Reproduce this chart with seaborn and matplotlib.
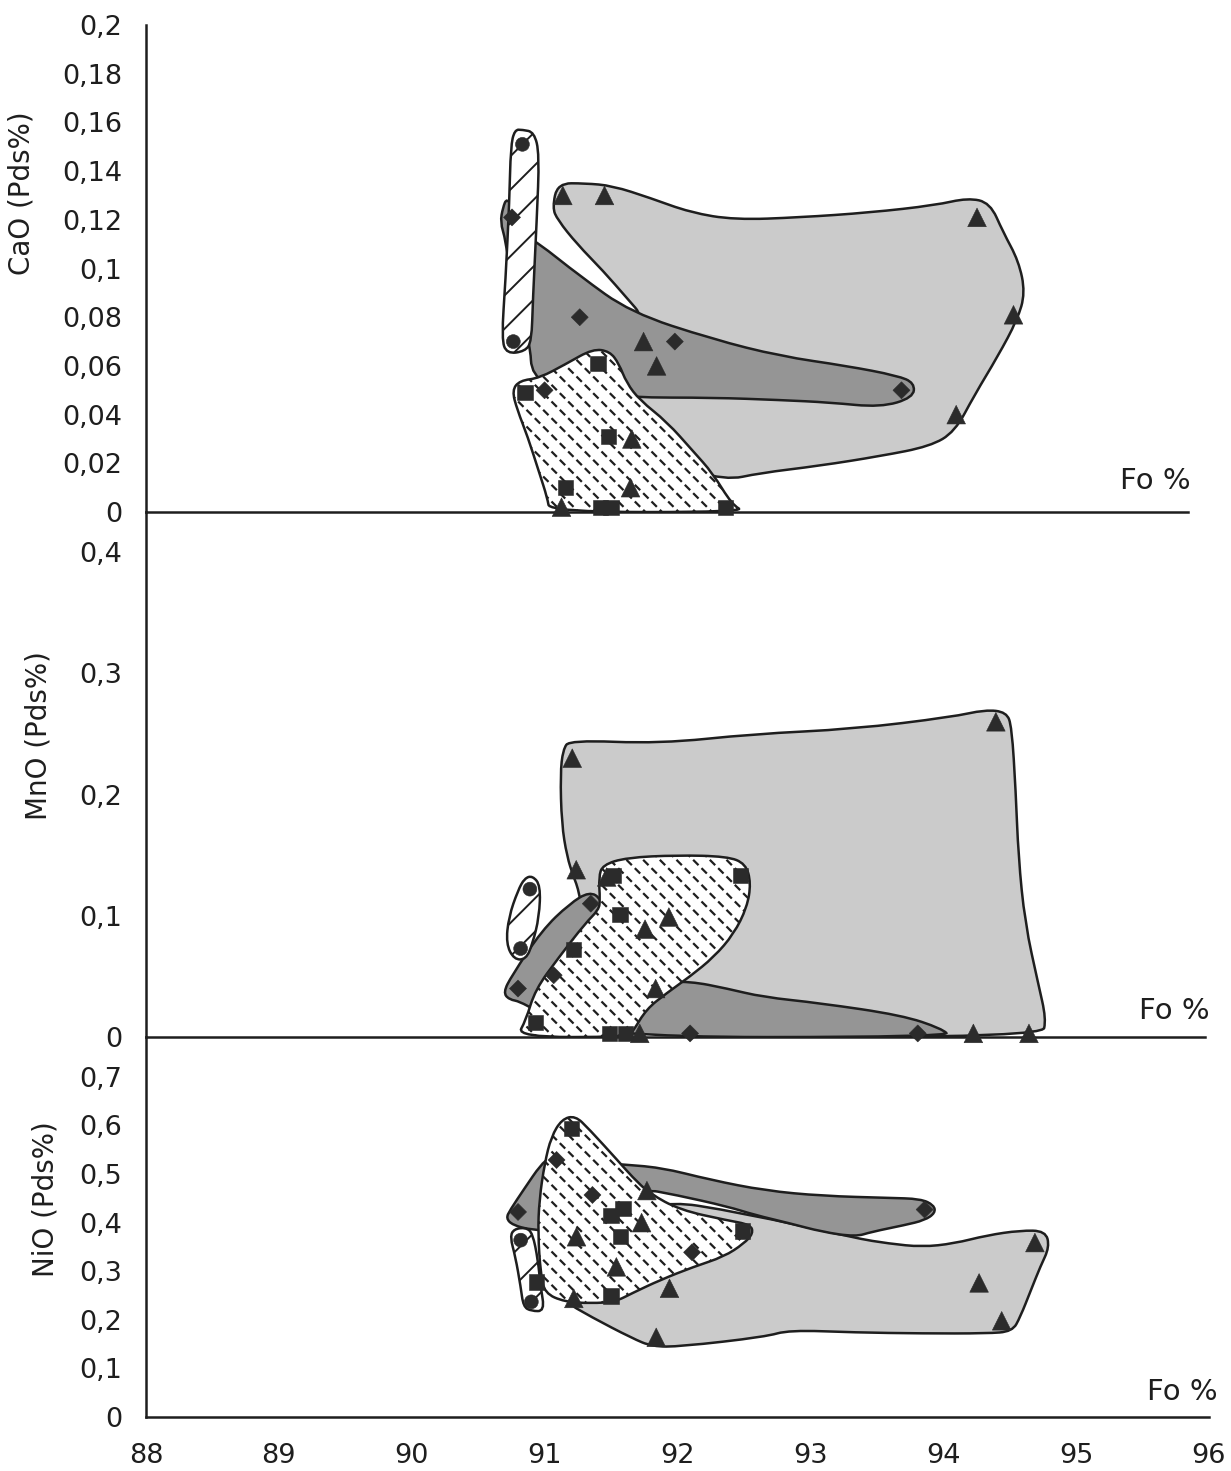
"""
Olivine Fo % vs CaO, MnO and NiO (Pds%) - three stacked panels.
"""
import numpy as np
import pandas as pd
import matplotlib
matplotlib.use('Agg')
import matplotlib.pyplot as plt
import seaborn as sns
from matplotlib.path import Path
from matplotlib.patches import PathPatch
from matplotlib.ticker import FixedLocator, FuncFormatter

# ---------------- data: analysed points (Fo %, oxide Pds%) ----------------
CAO_CERCLE = [(90.89, 0.151), (90.82, 0.070)]
CAO_LOSANGE = [(90.81, 0.121), (91.33, 0.080), (92.06, 0.070), (91.06, 0.050), (93.80, 0.050)]
CAO_TRIANGLE = [(91.20, 0.130), (91.52, 0.130), (94.38, 0.121), (94.66, 0.081), (91.82, 0.070),
                (91.92, 0.060), (94.22, 0.040), (91.73, 0.030), (91.72, 0.010), (91.19, 0.002)]
CAO_CARRE = [(91.47, 0.061), (90.91, 0.049), (91.55, 0.031), (91.22, 0.010), (91.49, 0.002),
             (91.57, 0.002), (92.45, 0.002)]

MNO_CERCLE = [(90.90, 0.122), (90.83, 0.073)]
MNO_LOSANGE = [(91.36, 0.110), (91.08, 0.051), (90.81, 0.040), (92.11, 0.003), (93.83, 0.003)]
MNO_TRIANGLE = [(94.42, 0.260), (91.22, 0.230), (91.25, 0.138), (91.48, 0.132), (91.95, 0.099),
                (91.77, 0.089), (91.85, 0.040), (91.73, 0.003), (94.25, 0.003), (94.67, 0.003)]
MNO_CARRE = [(91.53, 0.133), (92.49, 0.133), (91.58, 0.101), (91.23, 0.072), (90.94, 0.012),
             (91.50, 0.003), (91.62, 0.003)]

NIO_CERCLE = [(90.82, 0.364), (90.90, 0.237)]
NIO_LOSANGE = [(91.09, 0.529), (90.80, 0.422), (91.36, 0.457), (92.11, 0.339), (93.86, 0.427)]
NIO_TRIANGLE = [(91.77, 0.466), (91.73, 0.400), (91.24, 0.371), (91.54, 0.309), (91.94, 0.265),
                (91.22, 0.244), (91.84, 0.164), (94.69, 0.359), (94.27, 0.276), (94.44, 0.198)]
NIO_CARRE = [(91.20, 0.594), (91.59, 0.429), (91.50, 0.414), (91.57, 0.372), (92.49, 0.383),
             (90.94, 0.278), (91.50, 0.249)]

# ---------------- data: hand-drawn field outlines (control points) ----------------
CAO_TRI_FIELD = [(91.12, 0.125), (91.16, 0.135), (91.37, 0.135), (91.58, 0.134), (91.87, 0.129),
                 (92.18, 0.123), (92.52, 0.120), (93.02, 0.121), (93.56, 0.123), (94.06, 0.126),
                 (94.31, 0.129), (94.48, 0.127), (94.58, 0.115), (94.70, 0.103), (94.75, 0.090),
                 (94.69, 0.079), (94.54, 0.064), (94.36, 0.048), (94.21, 0.033), (94.02, 0.027),
                 (93.64, 0.023), (93.17, 0.019), (92.71, 0.016), (92.45, 0.013), (92.00, 0.020),
                 (91.65, 0.045), (91.75, 0.070), (91.82, 0.080), (91.69, 0.088), (91.51, 0.099),
                 (91.31, 0.110), (91.16, 0.120)]
CAO_DIAM_FIELD = [(90.72, 0.119), (90.74, 0.125), (90.77, 0.129), (90.83, 0.124), (90.89, 0.114),
                  (91.00, 0.111), (91.33, 0.097), (91.72, 0.082), (92.35, 0.071), (92.87, 0.064),
                  (93.38, 0.060), (93.77, 0.056), (93.90, 0.053), (93.89, 0.047), (93.64, 0.043),
                  (93.25, 0.045), (92.87, 0.046), (92.35, 0.047), (91.72, 0.047), (91.18, 0.050),
                  (90.96, 0.056), (90.95, 0.069), (90.83, 0.087), (90.76, 0.112)]
CAO_SQ_FIELD = [(91.43, 0.067), (91.56, 0.066), (91.63, 0.061), (91.69, 0.053), (91.79, 0.046),
                (92.00, 0.037), (92.20, 0.025), (92.35, 0.016), (92.50, 0.003), (92.60, 0.0),
                (91.10, 0.0), (91.08, 0.006), (91.02, 0.016), (90.93, 0.031), (90.85, 0.042),
                (90.81, 0.050), (90.87, 0.054), (91.02, 0.055), (91.23, 0.061)]
CAO_CIRC_FIELD = [(90.89, 0.157), (90.98, 0.156), (91.02, 0.147), (91.00, 0.120), (90.97, 0.087),
                  (90.96, 0.070), (90.91, 0.066), (90.77, 0.065), (90.73, 0.071), (90.76, 0.095),
                  (90.79, 0.128), (90.80, 0.150), (90.83, 0.157)]

MNO_TRI_FIELD = [(91.15, 0.237), (91.20, 0.245), (91.88, 0.242), (92.59, 0.250), (93.34, 0.254),
                 (94.09, 0.264), (94.34, 0.270), (94.50, 0.268), (94.54, 0.256), (94.57, 0.203),
                 (94.59, 0.149), (94.64, 0.094), (94.74, 0.044), (94.80, 0.015), (94.77, 0.0),
                 (91.70, 0.0), (91.40, 0.050), (91.27, 0.121), (91.23, 0.132), (91.18, 0.149),
                 (91.14, 0.176), (91.13, 0.217)]
MNO_DIAM_FIELD = [(90.70, 0.037), (90.76, 0.050), (90.99, 0.088), (91.20, 0.110), (91.35, 0.120),
                  (91.44, 0.114), (91.60, 0.080), (91.85, 0.045), (92.11, 0.046), (92.39, 0.040),
                  (92.66, 0.033), (93.09, 0.028), (93.71, 0.018), (94.01, 0.007), (94.08, 0.0),
                  (91.30, 0.0), (90.84, 0.029), (90.74, 0.031)]
MNO_SQ_FIELD = [(91.42, 0.132), (91.45, 0.142), (91.63, 0.148), (92.01, 0.150), (92.39, 0.149),
                (92.53, 0.143), (92.57, 0.127), (92.54, 0.107), (92.44, 0.085), (92.29, 0.066),
                (92.11, 0.050), (91.93, 0.036), (91.78, 0.023), (91.68, 0.005), (91.64, 0.0),
                (90.80, 0.0), (90.87, 0.014), (90.94, 0.039), (91.12, 0.066), (91.32, 0.094),
                (91.42, 0.105), (91.43, 0.113)]
MNO_CIRC_FIELD = [(90.92, 0.133), (90.98, 0.125), (90.97, 0.099), (90.92, 0.077), (90.87, 0.064),
                  (90.78, 0.064), (90.72, 0.077), (90.74, 0.099), (90.81, 0.121), (90.86, 0.131)]

NIO_TRI_FIELD = [(91.13, 0.241), (91.35, 0.206), (91.66, 0.162), (91.81, 0.145), (92.02, 0.145),
                 (92.66, 0.165), (92.84, 0.179), (93.34, 0.174), (93.84, 0.172), (94.33, 0.172),
                 (94.52, 0.176), (94.58, 0.206), (94.66, 0.261), (94.73, 0.309), (94.80, 0.350),
                 (94.77, 0.383), (94.58, 0.384), (94.33, 0.374), (94.08, 0.357), (93.84, 0.350),
                 (93.59, 0.357), (93.34, 0.368), (92.50, 0.420), (91.80, 0.450), (91.30, 0.350)]
NIO_DIAM_FIELD = [(90.71, 0.409), (90.74, 0.426), (90.85, 0.471), (90.97, 0.519), (91.04, 0.534),
                  (91.55, 0.520), (91.87, 0.514), (92.25, 0.488), (92.66, 0.466), (93.09, 0.455),
                  (93.59, 0.451), (93.83, 0.449), (93.93, 0.436), (93.94, 0.420), (93.86, 0.405),
                  (93.71, 0.395), (93.46, 0.381), (93.34, 0.371), (93.09, 0.381), (92.84, 0.399),
                  (92.58, 0.416), (92.38, 0.433), (91.99, 0.457), (91.71, 0.471), (91.20, 0.380),
                  (90.90, 0.385), (90.76, 0.395)]
NIO_SQ_FIELD = [(91.13, 0.613), (91.23, 0.620), (91.33, 0.594), (91.56, 0.525), (91.66, 0.494),
                (91.79, 0.460), (92.02, 0.426), (92.37, 0.405), (92.55, 0.396), (92.57, 0.378),
                (92.50, 0.357), (92.35, 0.330), (92.12, 0.309), (91.87, 0.282), (91.66, 0.255),
                (91.53, 0.237), (91.35, 0.234), (91.15, 0.237), (91.00, 0.255), (90.97, 0.296),
                (90.95, 0.378), (90.96, 0.447), (91.00, 0.522), (91.05, 0.577)]
NIO_CIRC_FIELD = [(90.77, 0.387), (90.86, 0.390), (90.91, 0.378), (90.95, 0.323), (90.97, 0.268),
                  (91.00, 0.218), (90.90, 0.218), (90.84, 0.227), (90.82, 0.268), (90.78, 0.330),
                  (90.74, 0.371)]

# ---------------- axes / labels ----------------
X_TICKS = list(range(88, 97))
CAO_TICKS = [0, 0.02, 0.04, 0.06, 0.08, 0.1, 0.12, 0.14, 0.16, 0.18, 0.2]
MNO_TICKS = [0, 0.1, 0.2, 0.3, 0.4]
NIO_TICKS = [0, 0.1, 0.2, 0.3, 0.4, 0.5, 0.6, 0.7]

INK = '#1e1e1e'
MARK = '#2b2b2b'
MARKERS = {'cercle': 'o', 'losange': 'D', 'triangle': '^', 'carre': 's'}
SIZES = {'cercle': 100, 'losange': 75, 'triangle': 180, 'carre': 120}


def comma_fmt(v, pos):
    return ('%g' % v).replace('.', ',')


def smooth_path(pts):
    # closed quadratic curve using the outline points as control points
    P = np.asarray(pts, dtype=float)
    M = (P + np.roll(P, -1, axis=0)) / 2
    verts = [M[-1]]
    codes = [Path.MOVETO]
    for i in range(len(P)):
        verts += [P[i], M[i]]
        codes += [Path.CURVE3, Path.CURVE3]
    verts.append(M[-1])
    codes.append(Path.CLOSEPOLY)
    return Path(verts, codes)


def hatched_patch(path, hatch_lw, **kwargs):
    # hatch line width is taken from rcParams when the patch is created
    with plt.rc_context({'hatch.linewidth': hatch_lw}):
        p = PathPatch(path, **kwargs)
    return p


def draw_field(ax, pts, kind, z):
    path = smooth_path(pts)
    if kind == 'triangle':
        ax.add_patch(PathPatch(path, facecolor='#cbcbcb', edgecolor='none', zorder=z))
    elif kind == 'losange':
        ax.add_patch(PathPatch(path, facecolor='#959595', edgecolor='none', zorder=z))
    elif kind == 'cercle':
        ax.add_patch(hatched_patch(path, 1.4, facecolor='white', edgecolor=INK, hatch='/',
                                   lw=0, zorder=z))
    else:
        # dashed texture: dark "\" lines broken up by white "/" lines
        ax.add_patch(hatched_patch(path, 1.6, facecolor='white', edgecolor='#1e1e1e',
                                   hatch='\\\\', lw=0, zorder=z))
        ax.add_patch(hatched_patch(path, 3.0, facecolor='none', edgecolor='white',
                                   hatch='//', lw=0, zorder=z + 0.1))
    ax.add_patch(PathPatch(path, facecolor='none', edgecolor=INK, lw=1.8, zorder=z + 0.2))


def draw_panel(ax, fields, points, ticks, ylim, ylabel, label_xy, fo_offset, show_x):
    for z, (pts, kind) in enumerate(fields):
        draw_field(ax, pts, kind, z + 1)

    rows = []
    for kind, pts in points.items():
        for fo, val in pts:
            rows.append({'fo': fo, 'val': val, 'groupe': kind})
    df = pd.DataFrame(rows)
    sns.scatterplot(data=df, x='fo', y='val', style='groupe', markers=MARKERS,
                    size='groupe', sizes=SIZES, color=MARK, edgecolor=MARK, linewidth=0.4,
                    legend=False, ax=ax, zorder=10, clip_on=False)

    ax.set_xlim(88, 96)
    ax.set_ylim(*ylim)
    ax.xaxis.set_major_locator(FixedLocator(X_TICKS))
    ax.yaxis.set_major_locator(FixedLocator(ticks))
    ax.yaxis.set_major_formatter(FuncFormatter(comma_fmt))
    ax.tick_params(axis='y', direction='inout', length=14, width=1.5, colors=INK,
                   labelsize=19.5, pad=10)
    ax.tick_params(axis='x', direction='inout', length=11, width=1.5, colors=INK,
                   labelsize=19.5, pad=13, labelbottom=show_x)
    for side in ['top', 'right']:
        ax.spines[side].set_visible(False)
    for side in ['left', 'bottom']:
        ax.spines[side].set_linewidth(1.8)
        ax.spines[side].set_color(INK)
    ax.set_xlabel('')
    ax.set_ylabel(ylabel, fontsize=20, color=INK)
    ax.yaxis.set_label_coords(*label_xy)
    ax.annotate('Fo %', xy=(1, 0), xycoords='axes fraction', xytext=fo_offset,
                textcoords='offset points', ha='right', va='bottom', fontsize=21, color=INK)
    ax.patch.set_alpha(0)


sns.set_theme(style='white')
plt.rcParams['font.family'] = ['DejaVu Sans']
plt.rcParams['hatch.linewidth'] = 1.3

fig = plt.figure(figsize=(12.31, 14.71), dpi=100)
ax_ca = fig.add_axes([0.1186, 0.6519, 0.8465, 0.3311])
ax_mn = fig.add_axes([0.1186, 0.2950, 0.8603, 0.3569])
ax_ni = fig.add_axes([0.1186, 0.0367, 0.8635, 0.2583])

draw_panel(ax_ca,
           [(CAO_TRI_FIELD, 'triangle'), (CAO_DIAM_FIELD, 'losange'),
            (CAO_SQ_FIELD, 'carre'), (CAO_CIRC_FIELD, 'cercle')],
           {'cercle': CAO_CERCLE, 'losange': CAO_LOSANGE,
            'triangle': CAO_TRIANGLE, 'carre': CAO_CARRE},
           CAO_TICKS, (0, 0.2), 'CaO (Pds%)', (-0.106, 0.655), (2, 12), False)

draw_panel(ax_mn,
           [(MNO_TRI_FIELD, 'triangle'), (MNO_DIAM_FIELD, 'losange'),
            (MNO_SQ_FIELD, 'carre'), (MNO_CIRC_FIELD, 'cercle')],
           {'cercle': MNO_CERCLE, 'losange': MNO_LOSANGE,
            'triangle': MNO_TRIANGLE, 'carre': MNO_CARRE},
           MNO_TICKS, (0, 0.433), 'MnO (Pds%)', (-0.088, 0.575), (3, 9), False)

draw_panel(ax_ni,
           [(NIO_TRI_FIELD, 'triangle'), (NIO_DIAM_FIELD, 'losange'),
            (NIO_SQ_FIELD, 'carre'), (NIO_CIRC_FIELD, 'cercle')],
           {'cercle': NIO_CERCLE, 'losange': NIO_LOSANGE,
            'triangle': NIO_TRIANGLE, 'carre': NIO_CARRE},
           NIO_TICKS, (0, 0.782), 'NiO (Pds%)', (-0.081, 0.574), (6, 8), True)

fig.savefig('out.png', dpi=100)
